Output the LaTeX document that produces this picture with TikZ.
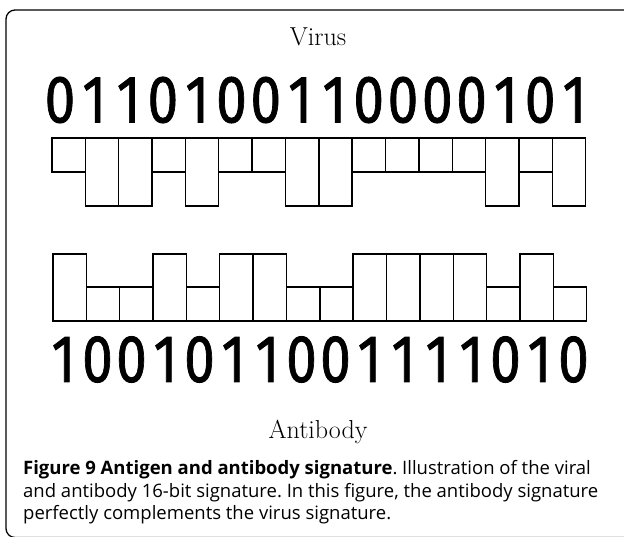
\documentclass[tikz,border=0pt]{standalone}
\usepackage{fontspec}
\newfontfamily\digitfont{Fira Sans}[FakeBold=1.2]
\newfontfamily\capfont{Open Sans}
\frenchspacing
\begin{document}
\begin{tikzpicture}[x=1pt,y=-1pt,
  frame/.style={line width=1.3pt, rounded corners=9pt},
  box/.style={line width=1.4pt},
  digit/.style={inner sep=0pt, font=\digitfont\fontsize{67}{67}\selectfont},
  label/.style={inner sep=0pt, anchor=base, font=\fontsize{26}{30}\selectfont},
  capline/.style={inner sep=0pt, anchor=base west, font=\capfont\fontsize{18.5}{22}\selectfont\frenchspacing}]
\useasboundingbox (0,0) rectangle (624,536);
\draw[frame] (6,10) rectangle (660,537.5);
\node[label] (virus) at (318,45) {Virus};
\foreach \d [count=\i] in {0,1,1,0,1,0,0,1,1,0,0,0,0,1,0,1}
  \node[digit] (v\i) at ({60+(\i-1)*34.3},100) {\scalebox{0.82}[1]{\d}};
\foreach \b [count=\i] in {0,1,1,0,1,0,0,1,1,0,0,0,0,1,0,1}
  \draw[box] ({52+(\i-1)*33.35},138) rectangle ++(33.35,{34+34*\b});
\foreach \b [count=\i] in {1,0,0,1,0,1,1,0,0,1,1,1,1,0,1,0}
  \draw[box] ({53+(\i-1)*33.35},321) rectangle ++(33.35,{-(34+33*\b)});
\foreach \d [count=\i] in {1,0,0,1,0,1,1,0,0,1,1,1,1,0,1,0}
  \node[digit] (a\i) at ({63.5+(\i-1)*34.0},359.5) {\scalebox{0.82}[1]{\d}};
\node[label] (antibody) at (318,438) {Antibody};
\node[capline] (c1) at (23,474) {\textbf{Figure 9 Antigen and antibody signature}. Illustration of the viral};
\node[capline] (c2) at (23,497) {and antibody 16-bit signature. In this figure, the antibody signature};
\node[capline] (c3) at (23,519) {perfectly complements the virus signature.};
\end{tikzpicture}
\end{document}
